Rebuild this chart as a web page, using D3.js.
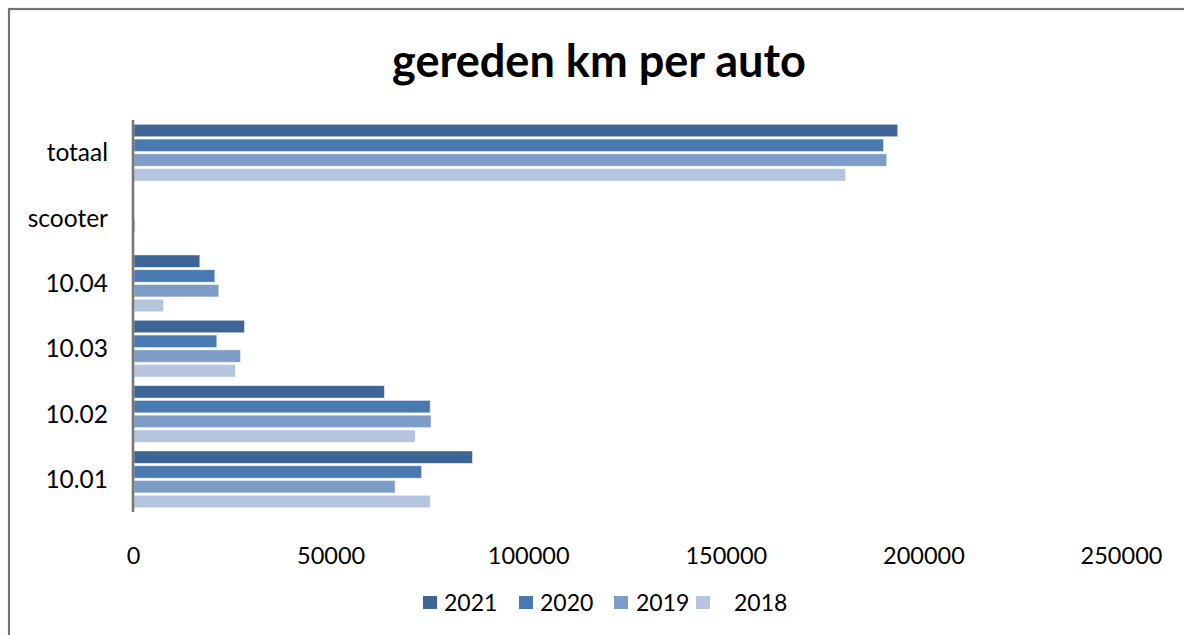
<!DOCTYPE html>
<html>
<head>
<meta charset="utf-8">
<script src="https://cdn.jsdelivr.net/npm/d3@7"></script>
<style>
  html, body { margin: 0; padding: 0; background: #fff; }
  svg { display: block; }
  text { font-family: Lato, "Open Sans", sans-serif; fill: #000; }
</style>
</head>
<body>
<svg id="chart" width="1184" height="635"></svg>
<script>
const title = "gereden km per auto";
const categories = ["totaal", "scooter", "10.04", "10.03", "10.02", "10.01"];
const seriesNames = ["2021", "2020", "2019", "2018"];
const seriesColors = ["#3d6595", "#4879b1", "#7e9cc8", "#b5c4df"];
const values2021 = [193500, 0, 16900, 28200, 63600, 85900];
const values2020 = [189900, 0, 20700, 21200, 75200, 73000];
const values2019 = [190700, 500, 21700, 27200, 75400, 66300];
const values2018 = [180300, 0, 7700, 25900, 71400, 75200];
const xTicks = [0, 50000, 100000, 150000, 200000, 250000];

const seriesValues = [values2021, values2020, values2019, values2018];

const svg = d3.select("#chart");

// outer chart border (only top/left visible in reference)
svg.append("rect")
  .attr("x", 9).attr("y", 9)
  .attr("width", 1300).attr("height", 800)
  .attr("fill", "none").attr("stroke", "#737373").attr("stroke-width", 2.2);

svg.append("text")
  .attr("x", 599).attr("y", 77)
  .attr("text-anchor", "middle")
  .attr("font-size", 45).attr("font-weight", "bold")
  .attr("textLength", 414).attr("lengthAdjust", "spacingAndGlyphs")
  .text(title);

const x = d3.scaleLinear().domain([0, 250000]).range([133, 1121]);
const y0 = d3.scaleBand().domain(categories).range([120, 512])
  .paddingInner(0.132).paddingOuter(0.066);
const y1 = d3.scaleBand().domain(seriesNames).range([0, y0.bandwidth()])
  .paddingInner(0.16).paddingOuter(0);

const groups = svg.append("g").selectAll("g")
  .data(categories).join("g")
  .attr("transform", d => `translate(0,${y0(d)})`);

groups.selectAll("rect")
  .data((c, ci) => seriesNames.map((s, si) => ({ s, si, v: seriesValues[si][ci] })))
  .join("rect")
  .attr("x", x(0) + 1)
  .attr("y", d => y1(d.s))
  .attr("width", d => Math.max(0, x(d.v) - x(0) - 1))
  .attr("height", y1.bandwidth())
  .attr("fill", d => seriesColors[d.si])
  .attr("stroke", "rgba(255,255,255,0.55)")
  .attr("stroke-width", 0.8);

// category labels
svg.append("g").selectAll("text")
  .data(categories).join("text")
  .attr("x", 108)
  .attr("y", d => y0(d) + y0.bandwidth() / 2)
  .attr("dy", "0.35em")
  .attr("text-anchor", "end")
  .attr("font-size", 24.5)
  .text(d => d);

// vertical axis line
svg.append("line")
  .attr("x1", x(0)).attr("x2", x(0))
  .attr("y1", 120).attr("y2", 512)
  .attr("stroke", "#777").attr("stroke-width", 2.6);

// x tick labels
const xAxis = svg.append("g")
  .attr("transform", "translate(0,547)")
  .call(d3.axisBottom(x).tickValues(xTicks).tickFormat(d3.format("d")).tickSize(0).tickPadding(0));
xAxis.select(".domain").remove();
xAxis.selectAll("text").attr("font-size", 23.5).attr("font-family", "Lato, sans-serif").attr("fill", "#000");

// legend
const legendItems = [
  { sq: 423, tx: 444 },
  { sq: 519, tx: 540 },
  { sq: 614, tx: 636 },
  { sq: 696, tx: 734 }
];
const legend = svg.append("g");
seriesNames.forEach((s, i) => {
  legend.append("rect")
    .attr("x", legendItems[i].sq).attr("y", 596)
    .attr("width", 14).attr("height", 13)
    .attr("fill", seriesColors[i]);
  legend.append("text")
    .attr("x", legendItems[i].tx).attr("y", 602.5)
    .attr("dy", "0.35em")
    .attr("font-size", 23)
    .text(s);
});
</script>
</body>
</html>
